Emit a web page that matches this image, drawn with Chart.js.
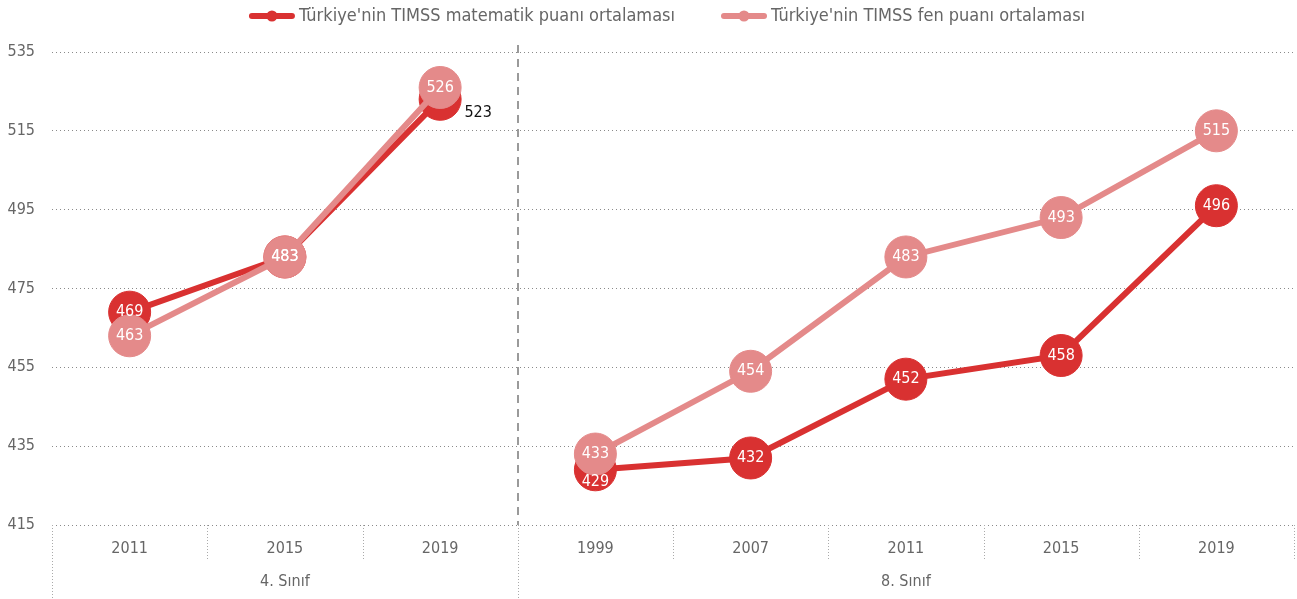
<!DOCTYPE html>
<html>
<head>
<meta charset="utf-8">
<script src="https://cdn.jsdelivr.net/npm/chart.js@4/dist/chart.umd.min.js"></script>
<style>
  html, body { margin: 0; padding: 0; background: #fff; overflow: hidden; }
  #wrap { width: 1297px; height: 599px; position: relative; }
  canvas { display: block; }
</style>
</head>
<body>
<div id="wrap"><canvas id="myChart"></canvas></div>
<script>
// chart data
const years = ['2011', '2015', '2019', '1999', '2007', '2011', '2015', '2019'];
const groupNames = ['4. Sınıf', '8. Sınıf'];
const groupSizes = [3, 5];
const mathScores = [469, 483, 523, 429, 432, 452, 458, 496];
const scienceScores = [463, 483, 526, 433, 454, 483, 493, 515];
const yTicks = [415, 435, 455, 475, 495, 515, 535];

const FONT = "'Liberation Sans Narrow', 'Arial Narrow', 'DejaVu Sans Condensed', sans-serif";
const RED = '#d93131';
const PINK = '#e48a8a';
const GREY = '#666666';

// no line between the last 4. sinif point and the first 8. sinif point
const gapAfter = groupSizes[0] - 1;
function segColor(color) {
    return ctx => ctx.p0DataIndex === gapAfter ? 'rgba(0,0,0,0)' : color;
}

// labels inside the circles, a couple of them moved
const labelShift = {
    '0-2': {dx: 38, dy: 14, color: '#111111'},
    '0-3': {dx: 0, dy: 12}
};

function drawLegend(chart) {
    // line + dot marker, then the text; row roughly centred over the plot
    const ctx = chart.ctx;
    const area = chart.chartArea;
    const markW = 46, gapText = 4, gapItems = 46, y = 16;
    ctx.font = '18px ' + FONT;
    const items = chart.data.datasets.map(ds => ({
        color: ds.borderColor, text: ds.label, w: ctx.measureText(ds.label).width
    }));
    let total = 0;
    items.forEach((it, i) => { total += markW + gapText + it.w + (i ? gapItems : 0); });
    let x = (area.left + area.right) / 2 - 6 - total / 2;
    items.forEach(it => {
        ctx.strokeStyle = it.color;
        ctx.fillStyle = it.color;
        ctx.lineWidth = 6;
        ctx.lineCap = 'round';
        ctx.beginPath(); ctx.moveTo(x + 3, y); ctx.lineTo(x + markW - 3, y); ctx.stroke();
        ctx.beginPath(); ctx.arc(x + markW / 2, y, 5.5, 0, Math.PI * 2); ctx.fill();
        ctx.fillStyle = GREY;
        ctx.textAlign = 'left';
        ctx.textBaseline = 'middle';
        ctx.fillText(it.text, x + markW + gapText, y);
        x += markW + gapText + it.w + gapItems;
    });
}

const extras = {
    id: 'extras',
    afterDraw(chart) {
        const ctx = chart.ctx;
        const x = chart.scales.x;
        const area = chart.chartArea;
        const step = x.getPixelForValue(1) - x.getPixelForValue(0);
        ctx.save();

        // category boundaries under the axis
        ctx.strokeStyle = '#aaaaaa';
        ctx.lineWidth = 1;
        ctx.setLineDash([1, 2]);
        let groupEdges = [0];
        let acc = 0;
        groupSizes.forEach(n => { acc += n; groupEdges.push(acc); });
        for (let i = 0; i <= years.length; i++) {
            const px = Math.round(x.getPixelForValue(i) - step / 2) + 0.5;
            const full = groupEdges.includes(i) && i < years.length;
            ctx.beginPath();
            ctx.moveTo(px, area.bottom);
            ctx.lineTo(px, full ? chart.height : area.bottom + 35);
            ctx.stroke();
        }

        // dashed separator between the two grades
        const sep = Math.round(x.getPixelForValue(groupSizes[0]) - step / 2);
        ctx.strokeStyle = '#9a9a9a';
        ctx.lineWidth = 2;
        ctx.setLineDash([8, 6]);
        ctx.beginPath();
        ctx.moveTo(sep, area.top - 7);
        ctx.lineTo(sep, area.bottom);
        ctx.stroke();
        ctx.setLineDash([]);

        // group labels
        ctx.fillStyle = GREY;
        ctx.font = '16px ' + FONT;
        ctx.textAlign = 'center';
        ctx.textBaseline = 'middle';
        for (let g = 0; g < groupSizes.length; g++) {
            const a = x.getPixelForValue(groupEdges[g]) - step / 2;
            const b = x.getPixelForValue(groupEdges[g + 1] - 1) + step / 2;
            ctx.fillText(groupNames[g], (a + b) / 2, 582);
        }

        // value labels
        ctx.font = '16px ' + FONT;
        chart.data.datasets.forEach((ds, di) => {
            const meta = chart.getDatasetMeta(di);
            meta.data.forEach((pt, i) => {
                const s = labelShift[di + '-' + i] || {};
                ctx.fillStyle = s.color || '#ffffff';
                ctx.fillText(ds.data[i], pt.x + (s.dx || 0), pt.y + (s.dy || 0));
            });
        });

        drawLegend(chart);
        ctx.restore();
    }
};

const config = {
    type: 'line',
    data: {
        labels: years,
        datasets: [
            {
                label: "Türkiye'nin TIMSS matematik puanı ortalaması",
                data: mathScores,
                borderColor: RED,
                backgroundColor: RED,
                borderWidth: 6,
                pointRadius: 21,
                pointBorderWidth: 1,
                pointHoverRadius: 21,
                segment: {borderColor: segColor(RED)},
                order: 1
            },
            {
                label: "Türkiye'nin TIMSS fen puanı ortalaması",
                data: scienceScores,
                borderColor: PINK,
                backgroundColor: PINK,
                borderWidth: 6,
                pointRadius: 21,
                pointBorderWidth: 1,
                pointHoverRadius: 21,
                segment: {borderColor: segColor(PINK)},
                order: 0
            }
        ]
    },
    options: {
        responsive: true,
        maintainAspectRatio: false,
        animation: false,
        layout: {autoPadding: false, padding: {top: 52, right: 3, bottom: 0, left: 0}},
        plugins: {
            tooltip: {enabled: false},
            legend: {display: false}
        },
        scales: {
            x: {
                offset: true,
                grid: {display: false},
                border: {display: false},
                ticks: {color: GREY, font: {family: FONT, size: 16}, padding: 6},
                afterFit(scale) {
                    scale.height = 74;
                    scale.paddingLeft = 0;
                    scale.paddingRight = 0;
                }
            },
            y: {
                min: 415,
                max: 535,
                afterBuildTicks(scale) { scale.ticks = yTicks.map(v => ({value: v})); },
                grid: {color: '#8a8a8a', lineWidth: 1, drawTicks: false},
                border: {display: false, dash: [1, 3]},
                ticks: {color: GREY, font: {family: FONT, size: 16}, padding: 17},
                afterFit(scale) { scale.width = 52; }
            }
        }
    },
    plugins: [extras]
};

const myChart = new Chart(document.getElementById('myChart'), config);
</script>
</body>
</html>
